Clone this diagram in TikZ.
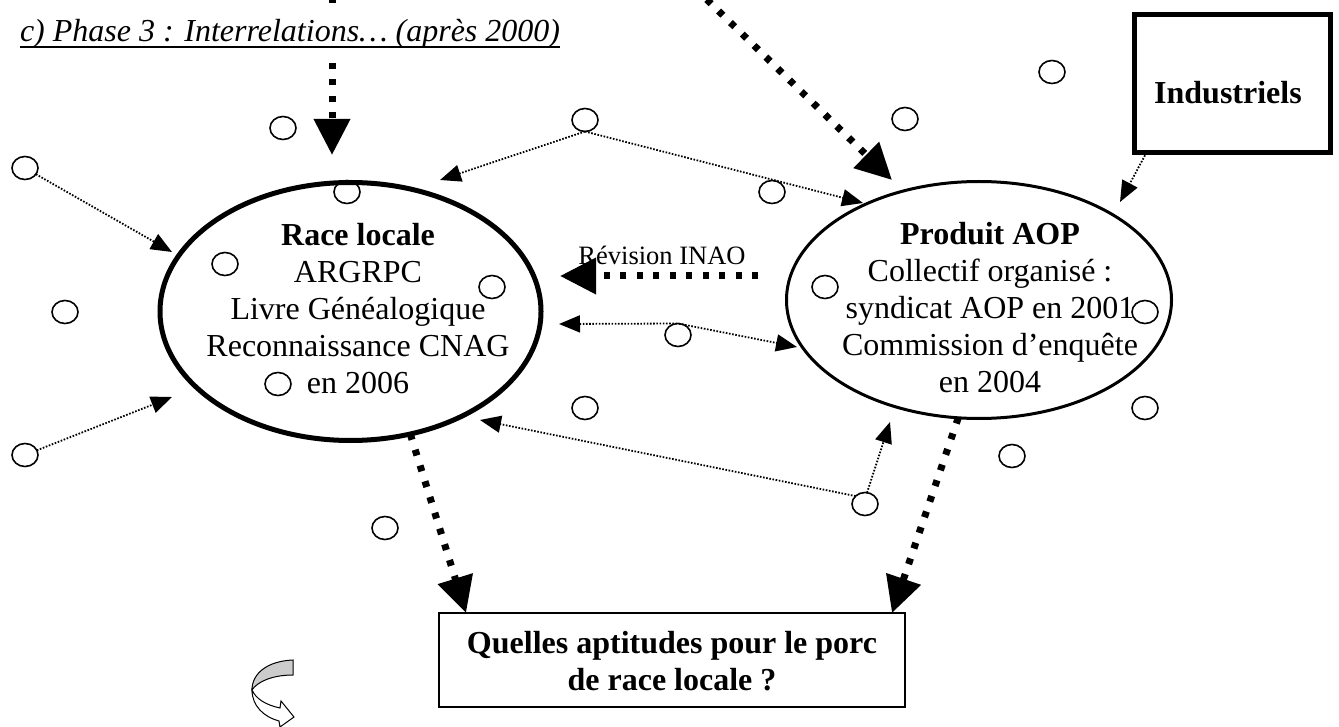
\documentclass[tikz,border=0pt]{standalone}
\usepackage{fontspec}
\setmainfont{Liberation Serif}
\usetikzlibrary{arrows.meta,shapes.geometric,calc}
\begin{document}
\begin{tikzpicture}[x=1pt,y=-1pt,
  every node/.style={inner sep=0pt, outer sep=0pt},
  txt/.style={align=center, font=\fontsize{32}{37}\selectfont},
  bub/.style={draw, ellipse, line width=1.6pt, minimum width=26pt, minimum height=23pt},
  thickarr/.style={line width=7pt, dash pattern=on 6pt off 10.5pt, -{Triangle[length=36pt,width=35pt]}},
  dotarr/.style={line width=1.8pt, dash pattern=on 1.6pt off 1.6pt, -{Triangle[length=21pt,width=17pt]}},
  dotarrb/.style={line width=1.8pt, dash pattern=on 1.6pt off 1.6pt, {Triangle[length=21pt,width=17pt]}-{Triangle[length=21pt,width=17pt]}},
]
\useasboundingbox (0,0) rectangle (1339,727);

% main shapes
\node[draw, ellipse, line width=5pt, minimum width=381pt, minimum height=258pt] (race) at (350.5,311.5) {};
\node[txt] (racetxt) at (358,308.5) {\textbf{Race locale}\\ARGRPC\\Livre Généalogique\\Reconnaissance CNAG\\en 2006};

\node[draw, ellipse, line width=3pt, minimum width=385pt, minimum height=237pt] (aop) at (979,300) {};
\node[txt] (aoptxt) at (990,308) {\textbf{Produit AOP}\\Collectif organisé :\\syndicat AOP en 2001\\Commission d’enquête\\en 2004};

\node[draw, line width=5pt, minimum width=196pt, minimum height=138pt] (indus) at (1232.5,83.5) {};
\node[txt] (industxt) at (1228,93) {\textbf{Industriels}};

\node[draw, line width=2pt, minimum width=466pt, minimum height=94pt] (quest) at (672,660) {};
\node[txt] (questtxt) at (672,661) {\textbf{Quelles aptitudes pour le porc}\\\textbf{de race locale ?}};

% small circles
\foreach \n/\x/\y in {1/25/168, 2/65/312, 3/25/455, 4/283/128, 5/347/192, 6/225/264, 7/492/287, 8/278/384, 9/585/120, 10/772/192, 11/905/119, 12/1052/72, 13/678/335, 14/825/287, 15/1145/312, 16/1145/408, 17/1012/456, 18/585/408, 19/865/504, 20/385/528}
  \node[bub] (c\n) at (\x,\y) {};

% free ends
\coordinate (vTop) at (332,-3);
\coordinate (vTip) at (332,155);
\coordinate (dTop) at (695,-12);
\coordinate (dTip) at (892,180);
\coordinate (revS) at (758,276);
\coordinate (revE) at (560,276);
\coordinate (t1) at (172,252);
\coordinate (t2) at (172,397);
\coordinate (t3) at (440,180);
\coordinate (t4) at (863,203);
\coordinate (t5) at (1120,202);
\coordinate (t6a) at (559,324);
\coordinate (t6b) at (797,347);
\coordinate (t7) at (480,420);
\coordinate (t8) at (890,422);

% thick dashed arrows
\draw[thickarr] (vTop) -- (vTip);
\draw[thickarr] (dTop) -- (dTip);
\draw[thickarr] (revS) -- (revE);
\draw[thickarr] (race.-64) -- ($(quest.north west)+(27,0)$);
\draw[thickarr] (aop.-100) -- ($(quest.north east)+(-13,0)$);

\node[font=\fontsize{26.5}{30}\selectfont] (rev) at (662,255) {Révision INAO};

% title (masks the top of the vertical arrow)
\node[anchor=base west, font=\fontsize{32}{37}\selectfont\itshape, fill=white, inner ysep=12pt] (title) at (20,42) {c) Phase 3 : Interrelations… (après 2000)};
\draw[line width=2pt] ($(title.base west)+(0,5)$) -- ($(title.base east)+(0,5)$);

% dotted arrows
\draw[dotarr] (c1) -- (t1);
\draw[dotarr] (c3) -- (t2);
\draw[dotarr] (c9.south) -- (t3);
\draw[dotarr] (c9.south) -- (t4);
\draw[dotarr] ($(indus.south west)+(12,0)$) -- (t5);
\draw[dotarrb] (t6a) -- (c13.north) -- (t6b);
\draw[dotarr] (c19.140) -- (t7);
\draw[dotarr] (c19.80) -- (t8);

% curved arrow
\filldraw[fill=black!20, line width=1pt] (293,660) .. controls (268,661) and (252,673) .. (252,690) .. controls (257,682) and (272,675) .. (293,675) -- cycle;
\filldraw[fill=white, line width=1pt] (252,690) .. controls (252,706) and (264,717) .. (279,721) -- (280,727) -- (294,717) -- (281,701) -- (280,708) .. controls (266,705) and (256,699) .. (252,690) -- cycle;
\end{tikzpicture}
\end{document}
